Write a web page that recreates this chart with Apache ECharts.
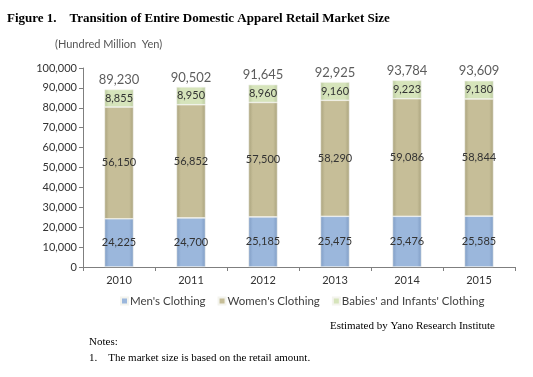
<!DOCTYPE html>
<html>
<head>
<meta charset="utf-8">
<script src="https://cdn.jsdelivr.net/npm/echarts@6/dist/echarts.min.js"></script>
<style>
  html, body { margin: 0; padding: 0; background: #fff; }
  #root { width: 533px; height: 377px; }
</style>
</head>
<body>
<div id="root"></div>
<script>
// 年份
var years = ['2010', '2011', '2012', '2013', '2014', '2015'];
// 各类别数值 (百万日元 x100)
var mens = [24225, 24700, 25185, 25475, 25476, 25585];
var womens = [56150, 56852, 57500, 58290, 59086, 58844];
var babies = [8855, 8950, 8960, 9160, 9223, 9180];
// 合计
var totals = [89230, 90502, 91645, 92925, 93784, 93609];

var seriesNames = ["Men's Clothing", "Women's Clothing", "Babies' and Infants' Clothing"];
var font = 'Lato';

function fmt(v) {
    return String(v).replace(/\B(?=(\d{3})+(?!\d))/g, ',');
}

// 柱子渐变 (模拟立体效果)
function barColor(edge, mid) {
    return new echarts.graphic.LinearGradient(0, 0, 1, 0, [
        { offset: 0, color: edge },
        { offset: 0.15, color: mid },
        { offset: 0.85, color: mid },
        { offset: 1, color: edge }
    ]);
}

function stackSeries(name, data, edge, mid) {
    return {
        name: name,
        type: 'bar',
        stack: 'total',
        barWidth: 29,
        data: data,
        itemStyle: { color: barColor(edge, mid), borderColor: '#f4f4ee', borderWidth: 0.6 },
        label: {
            show: true,
            position: 'inside',
            fontFamily: font,
            fontSize: 11,
            color: '#333',
            formatter: function (p) { return fmt(p.value); }
        }
    };
}

var myChart = echarts.init(document.getElementById('root'));
var option = {
    animation: false,
    textStyle: { fontFamily: font },
    graphic: [
        { type: 'text', left: 7, top: 12, style: { text: 'Figure 1.    Transition of Entire Domestic Apparel Retail Market Size', font: 'bold 13px "Liberation Serif"', fill: '#000' } },
        { type: 'text', left: 55, top: 39, style: { text: '(Hundred Million  Yen)', font: '11px Lato', fill: '#555' } },
        { type: 'text', right: 38, top: 321, style: { text: 'Estimated by Yano Research Institute', font: '11px "Liberation Serif"', fill: '#000' } },
        { type: 'text', left: 89, top: 337, style: { text: 'Notes:', font: '11px "Liberation Serif"', fill: '#000' } },
        { type: 'text', left: 89, top: 353, style: { text: '1.    The market size is based on the retail amount.', font: '11px "Liberation Serif"', fill: '#000' } }
    ],
    grid: { left: 83, right: 18, top: 68, bottom: 110 },
    legend: {
        data: seriesNames,
        left: 120,
        top: 295,
        padding: 0,
        icon: 'rect',
        itemWidth: 7,
        itemHeight: 7,
        itemGap: 12,
        textStyle: { fontFamily: font, fontSize: 11.5, color: '#404040', padding: [0, 0, 0, -3] }
    },
    xAxis: {
        type: 'category',
        data: years,
        axisLine: { lineStyle: { color: '#7f7f7f' } },
        axisTick: { show: true, alignWithLabel: false, length: 4, lineStyle: { color: '#7f7f7f' } },
        axisLabel: { fontFamily: font, fontSize: 11, color: '#333', margin: 8 }
    },
    yAxis: {
        type: 'value',
        min: 0,
        max: 100000,
        interval: 10000,
        axisLine: { show: true, lineStyle: { color: '#7f7f7f' } },
        axisTick: { show: true, length: 4, lineStyle: { color: '#7f7f7f' } },
        splitLine: { show: false },
        axisLabel: { fontFamily: font, fontSize: 11, color: '#333', margin: 6, formatter: function (v) { return fmt(v); } }
    },
    series: [
        stackSeries(seriesNames[0], mens, '#7f9cc4', '#9bb7dc'),
        stackSeries(seriesNames[1], womens, '#a9a27c', '#c6be98'),
        stackSeries(seriesNames[2], babies, '#b9c99c', '#d6e4bb'),
        {
            name: 'total',
            type: 'scatter',
            data: totals,
            symbolSize: 0,
            silent: true,
            label: {
                show: true,
                position: 'top',
                distance: 3,
                fontFamily: font,
                fontSize: 13,
                color: '#333',
                formatter: function (p) { return fmt(p.value); }
            }
        }
    ]
};
myChart.setOption(option);
</script>
</body>
</html>
